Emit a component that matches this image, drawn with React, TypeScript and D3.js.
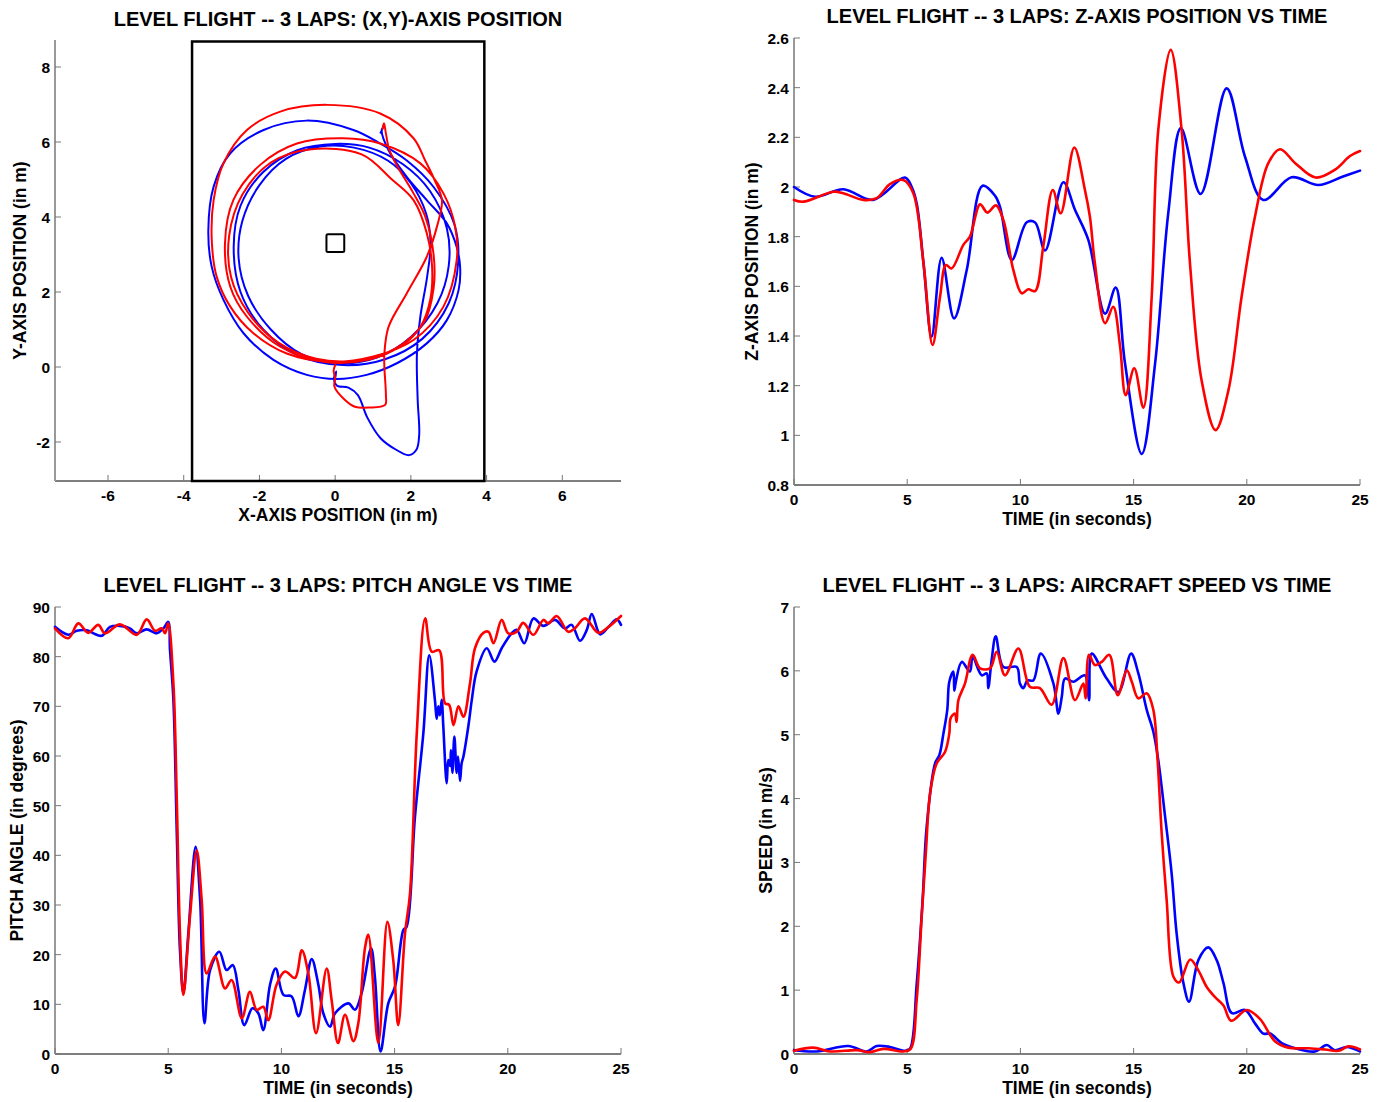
import React from 'react'
import * as d3 from 'd3'

type Pt = [number, number]

// ---- tick values ----
const xyTicksX = [-6, -4, -2, 0, 2, 4, 6]
const xyTicksY = [-2, 0, 2, 4, 6, 8]
const timeTicks = [0, 5, 10, 15, 20, 25]
const zTicks = [0.8, 1, 1.2, 1.4, 1.6, 1.8, 2, 2.2, 2.4, 2.6]
const pitchTicks = [0, 10, 20, 30, 40, 50, 60, 70, 80, 90]
const speedTicks = [0, 1, 2, 3, 4, 5, 6, 7]

// ---- arena (flight volume) and target marker, in metres ----
const arenaBox = { x0: -3.78, x1: 3.94, y0: -3.04, y1: 8.68 }
const targetBox = { x0: -0.23, x1: 0.24, y0: 3.07, y1: 3.54 }

// ---- (x, y) trajectories ----
const xyBlue: Pt[] = [
  [0.0, -0.3], [0.03, -0.12], [-0.03, -0.3], [0.05, -0.5], [0.35, -0.55], [0.6, -0.75], [0.85, -1.35],
  [1.2, -1.9], [1.6, -2.2], [1.95, -2.35], [2.15, -2.2], [2.22, -1.8], [2.18, -0.88], [2.16, 0.36],
  [2.25, 1.34], [2.43, 2.41], [2.52, 3.3], [2.4, 4.1], [2.0, 4.9], [1.4, 5.5], [0.5, 5.85], [-0.4, 5.88],
  [-1.3, 5.55], [-2.0, 4.85], [-2.45, 3.9], [-2.55, 2.9], [-2.3, 1.9], [-1.7, 1.0], [-0.9, 0.35], [0.1, 0.1],
  [1.1, 0.25], [2.0, 0.8], [2.7, 1.7], [3.0, 2.7], [2.95, 3.7], [2.5, 4.7], [1.8, 5.4], [0.9, 5.85], [0.0, 5.95],
  [-1.0, 5.78], [-1.9, 5.2], [-2.5, 4.3], [-2.68, 3.2], [-2.5, 2.0], [-1.9, 1.0], [-1.0, 0.32], [0.2, 0.05],
  [1.3, 0.2], [2.3, 0.75], [3.0, 1.7], [3.25, 2.8], [3.15, 3.8], [2.6, 4.8], [1.9, 5.5], [1.19, 5.96],
  [0.48, 6.32], [-0.75, 6.57], [-1.89, 6.32], [-2.77, 5.7], [-3.21, 4.81], [-3.35, 3.65], [-3.26, 2.67],
  [-2.95, 1.79], [-2.42, 0.9], [-1.63, 0.19], [-0.75, -0.21], [0.04, -0.32], [0.83, -0.21], [1.63, 0.1],
  [2.42, 0.63], [2.95, 1.25], [3.26, 2.05], [3.3, 2.68], [3.21, 3.2], [2.95, 3.83], [2.42, 4.45], [1.89, 5.07],
  [1.41, 5.78], [1.23, 6.32], [1.27, 6.38], [1.2, 6.25]
]
const xyRed: Pt[] = [
  [0.0, 0.05], [-0.04, -0.1], [0.0, -0.3], [-0.02, -0.52], [0.26, -0.88], [0.52, -1.06], [0.9, -1.08],
  [1.32, -1.01], [1.34, -0.75], [1.3, 0.0], [1.3, 0.36], [1.41, 1.07], [1.89, 1.96], [2.42, 2.94], [2.69, 3.75],
  [2.82, 4.45], [2.62, 5.0], [2.38, 5.5], [2.07, 6.1], [1.19, 6.76], [-0.22, 6.99], [-1.45, 6.81], [-2.33, 6.32],
  [-2.95, 5.43], [-3.21, 4.45], [-3.26, 3.39], [-3.13, 2.41], [-2.77, 1.61], [-2.16, 0.9], [-1.28, 0.36],
  [-0.13, 0.14], [1.01, 0.28], [2.07, 0.72], [2.86, 1.61], [3.21, 2.85], [3.17, 3.74], [2.86, 4.63], [2.25, 5.43],
  [1.19, 5.96], [0.22, 6.1], [-1.01, 5.96], [-1.98, 5.39], [-2.69, 4.45], [-2.91, 3.3], [-2.77, 2.14],
  [-2.33, 1.34], [-1.45, 0.54], [-0.31, 0.14], [0.9, 0.2], [1.8, 0.6], [2.25, 1.07], [2.51, 1.79], [2.56, 2.67],
  [2.42, 3.57], [2.07, 4.45], [1.5, 5.0], [0.7, 5.67], [-0.68, 5.8], [-1.7, 5.45], [-2.45, 4.6], [-2.8, 3.5],
  [-2.75, 2.4], [-2.3, 1.45], [-1.5, 0.65], [-0.5, 0.22], [0.6, 0.18], [1.6, 0.5], [2.35, 1.2], [2.6, 2.1],
  [2.6, 3.0], [2.38, 4.01], [2.07, 4.63], [1.65, 5.34], [1.43, 5.79], [1.34, 6.23], [1.29, 6.5], [1.25, 6.35]
]

// ---- z position vs time [t, z] ----
const zBlue: Pt[] = [
  [0, 2.0], [0.93, 1.961], [2.18, 1.991], [3.5, 1.948], [4.9, 2.038], [5.2, 2.0], [5.42, 1.934], [5.72, 1.693],
  [6.08, 1.397], [6.52, 1.715], [7.07, 1.471], [7.63, 1.666], [8.33, 2.005], [8.88, 1.965], [9.1, 1.92],
  [9.62, 1.706], [10.28, 1.858], [10.65, 1.857], [11.09, 1.744], [11.9, 2.019], [12.41, 1.908], [13.0, 1.787],
  [13.74, 1.49], [14.21, 1.595], [14.62, 1.29], [15.36, 0.925], [15.95, 1.29], [16.53, 1.894], [17.09, 2.237],
  [17.96, 1.972], [19.11, 2.397], [19.92, 2.122], [20.73, 1.948], [21.98, 2.039], [23.16, 2.008], [24.19, 2.04],
  [25, 2.066]
]
const zRed: Pt[] = [
  [0, 1.948], [0.41, 1.941], [1.74, 1.981], [2.18, 1.975], [3.06, 1.948], [3.65, 1.955], [4.24, 2.012],
  [4.83, 2.028], [5.27, 1.975], [5.72, 1.693], [6.12, 1.364], [6.45, 1.558], [6.71, 1.686], [6.96, 1.672],
  [7.48, 1.767], [7.77, 1.8], [8.22, 1.93], [8.54, 1.897], [8.92, 1.926], [9.25, 1.866], [9.69, 1.665],
  [10.06, 1.572], [10.35, 1.588], [10.65, 1.581], [11.01, 1.76], [11.43, 1.988], [11.78, 1.894], [12.38, 2.159],
  [12.85, 1.988], [13.07, 1.88], [13.29, 1.693], [13.74, 1.451], [14.1, 1.518], [14.4, 1.36], [14.65, 1.162],
  [15.03, 1.27], [15.43, 1.111], [15.8, 1.558], [16.09, 2.23], [16.64, 2.552], [17.12, 2.23], [17.49, 1.693],
  [18.0, 1.223], [18.62, 1.021], [19.19, 1.182], [19.77, 1.558], [20.36, 1.88], [20.95, 2.096], [21.47, 2.152],
  [22.14, 2.096], [23.04, 2.038], [23.9, 2.07], [24.56, 2.125], [25, 2.145]
]

// ---- pitch angle vs time [t, deg] ----
const pitchBlue: Pt[] = [
  [0, 86.0], [0.59, 84.4], [0.96, 85.2], [1.4, 85.3], [1.69, 84.7], [2.06, 84.2], [2.43, 86.0], [2.87, 86.2],
  [3.31, 85.7], [3.61, 84.7], [4.05, 85.5], [4.49, 84.7], [4.79, 85.7], [5.0, 87.0], [5.08, 81.3], [5.23, 71.3],
  [5.38, 44.4], [5.52, 20.9], [5.67, 12.2], [5.89, 24.3], [6.21, 41.7], [6.41, 31.0], [6.6, 6.2], [6.85, 16.9],
  [7.26, 20.6], [7.58, 16.9], [7.85, 17.9], [8.1, 12.9], [8.36, 5.8], [8.72, 9.2], [8.98, 8.2], [9.2, 4.8],
  [9.5, 14.0], [9.75, 17.2], [10.09, 11.9], [10.45, 11.6], [10.75, 7.6], [11.04, 12.9], [11.34, 19.1],
  [11.63, 14.0], [11.85, 8.2], [12.15, 5.5], [12.37, 8.2], [12.96, 10.2], [13.25, 8.9], [13.54, 12.2],
  [13.96, 21.3], [14.13, 15.5], [14.38, 0.5], [14.72, 10.2], [15.02, 13.6], [15.39, 25.0], [15.53, 25.6],
  [15.9, 47.8], [16.27, 64.6], [16.53, 80.3], [16.78, 71.3], [16.86, 67.5], [16.93, 70.0], [17.0, 68.2],
  [17.08, 71.3], [17.15, 66.1], [17.3, 54.5], [17.37, 59.2], [17.45, 58.0], [17.49, 61.2], [17.55, 56.6],
  [17.64, 63.9], [17.74, 56.6], [17.8, 59.9], [17.89, 55.0], [17.96, 58.5], [18.04, 59.9], [18.26, 66.1],
  [18.41, 71.3], [18.62, 77.0], [19.07, 81.7], [19.41, 79.0], [19.73, 81.7], [20.17, 84.7], [20.39, 85.4],
  [20.73, 82.7], [21.13, 87.7], [21.57, 86.2], [22.08, 87.4], [22.52, 85.7], [22.82, 86.4], [23.19, 83.2],
  [23.49, 85.4], [23.71, 88.6], [24.08, 84.5], [24.45, 86.0], [24.81, 87.5], [25, 86.4]
]
const pitchRed: Pt[] = [
  [0, 85.7], [0.59, 83.7], [1.03, 86.7], [1.47, 84.8], [1.91, 86.4], [2.21, 84.7], [2.87, 86.5], [3.61, 84.4],
  [4.05, 87.5], [4.42, 85.2], [4.71, 85.7], [4.86, 84.7], [5.0, 86.7], [5.23, 74.6], [5.38, 51.1], [5.52, 24.3],
  [5.67, 11.9], [5.96, 27.6], [6.26, 41.0], [6.48, 31.0], [6.7, 16.2], [7.07, 19.6], [7.51, 13.2], [7.8, 14.9],
  [8.25, 7.2], [8.61, 12.5], [8.91, 8.9], [9.2, 9.5], [9.42, 6.8], [9.79, 14.0], [10.16, 16.6], [10.6, 15.3],
  [10.9, 20.9], [11.19, 16.2], [11.53, 4.2], [12.0, 17.2], [12.22, 10.8], [12.5, 2.2], [12.81, 7.9],
  [13.18, 2.6], [13.4, 6.3], [13.69, 21.3], [13.84, 24.0], [14.28, 2.2], [14.68, 26.6], [14.94, 18.9],
  [15.16, 5.8], [15.46, 24.3], [15.68, 32.3], [15.98, 64.6], [16.35, 87.7], [16.64, 81.0], [16.97, 81.3],
  [17.23, 70.6], [17.41, 70.3], [17.6, 66.2], [17.82, 70.0], [18.04, 67.9], [18.33, 74.6], [18.55, 81.7],
  [18.92, 84.8], [19.15, 85.0], [19.37, 82.7], [19.73, 87.4], [20.02, 84.7], [20.39, 85.0], [20.68, 86.8],
  [21.13, 84.4], [21.57, 87.4], [21.79, 86.7], [22.16, 88.2], [22.67, 85.0], [22.96, 85.7], [23.41, 87.7],
  [24.0, 84.8], [24.45, 86.0], [25, 88.2]
]

// ---- aircraft speed vs time [t, m/s] ----
const speedBlue: Pt[] = [
  [0, 0.06], [1.0, 0.04], [2.4, 0.125], [3.2, 0.04], [3.65, 0.125], [4.24, 0.11], [4.9, 0.05], [5.12, 0.08],
  [5.42, 1.1], [5.68, 2.41], [5.86, 3.56], [6.23, 4.55], [6.42, 4.68], [6.6, 5.02], [6.77, 5.39], [6.86, 5.83],
  [7.04, 5.99], [7.08, 5.69], [7.16, 5.85], [7.41, 6.14], [7.77, 5.99], [7.89, 6.22], [8.29, 5.93], [8.51, 5.96],
  [8.58, 5.73], [8.73, 6.17], [8.91, 6.54], [9.25, 6.06], [9.84, 6.06], [9.98, 5.8], [10.13, 5.73], [10.31, 5.85],
  [10.57, 5.85], [10.9, 6.27], [11.46, 5.8], [11.68, 5.33], [11.83, 5.6], [11.97, 5.88], [12.34, 5.83],
  [12.85, 5.93], [13.03, 5.54], [13.15, 6.27], [13.81, 5.88], [14.33, 5.67], [14.89, 6.27], [15.21, 5.96],
  [15.58, 5.39], [15.87, 5.05], [16.09, 4.6], [16.39, 3.72], [16.68, 2.83], [16.9, 1.89], [17.2, 1.11],
  [17.45, 0.82], [17.86, 1.47], [18.3, 1.67], [18.67, 1.47], [18.97, 1.11], [19.34, 0.64], [19.92, 0.69],
  [20.36, 0.48], [20.73, 0.32], [21.03, 0.32], [21.54, 0.17], [22.13, 0.09], [23.01, 0.04], [23.53, 0.14],
  [23.89, 0.06], [24.41, 0.11], [25, 0.04]
]
const speedRed: Pt[] = [
  [0, 0.05], [0.85, 0.1], [1.59, 0.04], [2.77, 0.06], [3.36, 0.03], [3.95, 0.08], [4.83, 0.04], [5.15, 0.08],
  [5.42, 0.85], [5.64, 2.15], [5.83, 3.19], [6.01, 4.08], [6.3, 4.55], [6.67, 4.73], [6.86, 5.02], [6.92, 5.26],
  [7.11, 5.33], [7.18, 5.2], [7.26, 5.54], [7.55, 5.8], [7.89, 6.25], [8.22, 6.04], [8.66, 6.04], [8.95, 6.3],
  [9.32, 5.93], [9.91, 6.35], [10.42, 5.75], [10.86, 5.73], [11.38, 5.47], [11.9, 6.2], [12.41, 5.54],
  [12.78, 5.8], [12.88, 5.57], [13.03, 6.25], [13.29, 6.09], [13.59, 6.14], [13.93, 6.25], [14.3, 5.62],
  [14.7, 6.01], [14.92, 5.83], [15.21, 5.57], [15.58, 5.65], [15.87, 5.39], [16.06, 4.6], [16.24, 3.46],
  [16.46, 2.41], [16.76, 1.21], [17.01, 1.12], [17.5, 1.48], [17.86, 1.31], [18.23, 1.05], [18.6, 0.89],
  [18.97, 0.76], [19.31, 0.52], [20.0, 0.69], [20.58, 0.55], [21.24, 0.2], [21.83, 0.1], [22.72, 0.09],
  [23.46, 0.07], [24.05, 0.05], [24.49, 0.12], [25, 0.07]
]

const FONT = "'Liberation Sans', Arial, Helvetica, sans-serif"
const BLUE = '#0000ff'
const RED = '#ff0000'
const fmt = (v: number) => `${+v.toFixed(1)}`

function Axes({ x, y, xTicks, yTicks }) {
  const [x0, x1] = x.range()
  const [yb, yt] = y.range()
  return (
    <g fontFamily={FONT} fontWeight="bold" fontSize={15.5} fill="#000">
      <line x1={x0} x2={x1} y1={yb} y2={yb} stroke="#555" strokeWidth={1.4} />
      <line x1={x0} x2={x0} y1={yb} y2={yt} stroke="#999" strokeWidth={2} />
      {xTicks.map(t => (
        <g key={'x' + t}>
          <line x1={x(t)} x2={x(t)} y1={yb} y2={yb - 6} stroke="#777" strokeWidth={1} />
          <text x={x(t)} y={yb + 20} textAnchor="middle">{fmt(t)}</text>
        </g>
      ))}
      {yTicks.map(t => (
        <g key={'y' + t}>
          <line x1={x0} x2={x0 + 6} y1={y(t)} y2={y(t)} stroke="#777" strokeWidth={1} />
          <text x={x0 - 5} y={y(t) + 6} textAnchor="end">{fmt(t)}</text>
        </g>
      ))}
    </g>
  )
}

function Labels({ x, y, title, titleY, xLabel, yLabel, yLabelX }) {
  const [x0, x1] = x.range()
  const [yb, yt] = y.range()
  const cx = (x0 + x1) / 2
  const cy = (yb + yt) / 2
  return (
    <g fontFamily={FONT} fontWeight="bold" fill="#000">
      <text x={cx} y={titleY} fontSize={20} textAnchor="middle">{title}</text>
      <text x={cx} y={yb + 40} fontSize={17.5} textAnchor="middle">{xLabel}</text>
      <text transform={`translate(${yLabelX},${cy}) rotate(-90)`} fontSize={17.5}
        textAnchor="middle" dominantBaseline="central">{yLabel}</text>
    </g>
  )
}

function Series({ x, y, data, color, width }) {
  const line = d3.line<Pt>()
    .x(d => x(d[0]))
    .y(d => y(d[1]))
    .curve(d3.curveCatmullRom.alpha(0.5))
  return <path d={line(data) || ''} fill="none" stroke={color} strokeWidth={width}
    strokeLinejoin="round" strokeLinecap="round" />
}

function TimePanel({ left, top, data, yDomain, yTicks, title, titleY, yLabel, yLabelX }) {
  const x = d3.scaleLinear().domain([0, 25]).range([left, left + 566])
  const y = d3.scaleLinear().domain(yDomain).range([top + 447, top])
  return (
    <g>
      <Axes x={x} y={y} xTicks={timeTicks} yTicks={yTicks} />
      <Series x={x} y={y} data={data[0]} color={BLUE} width={2.6} />
      <Series x={x} y={y} data={data[1]} color={RED} width={2.6} />
      <Labels x={x} y={y} title={title} titleY={titleY} xLabel="TIME (in seconds)"
        yLabel={yLabel} yLabelX={yLabelX} />
    </g>
  )
}

function XYPanel() {
  const x = d3.scaleLinear().domain([-7.4, 7.55]).range([55, 621])
  const y = d3.scaleLinear().domain([-3.04, 8.72]).range([481, 40])
  const rect = (b, sw) => (
    <rect x={x(b.x0)} y={y(b.y1)} width={x(b.x1) - x(b.x0)} height={y(b.y0) - y(b.y1)}
      fill="none" stroke="#000" strokeWidth={sw} rx={sw === 2 ? 1.5 : 0} />
  )
  return (
    <g>
      <Axes x={x} y={y} xTicks={xyTicksX} yTicks={xyTicksY} />
      {rect(arenaBox, 2.5)}
      <Series x={x} y={y} data={xyBlue} color={BLUE} width={2} />
      <Series x={x} y={y} data={xyRed} color={RED} width={2} />
      {rect(targetBox, 2)}
      <Labels x={x} y={y} title="LEVEL FLIGHT -- 3 LAPS: (X,Y)-AXIS POSITION" titleY={26}
        xLabel="X-AXIS POSITION (in m)" yLabel="Y-AXIS POSITION (in m)" yLabelX={20} />
    </g>
  )
}

export default function App() {
  return (
    <svg width={1385} height={1102} style={{ position: 'absolute', left: 0, top: 0, background: '#fff' }}>
      <XYPanel />
      <TimePanel left={794} top={38} data={[zBlue, zRed]} yDomain={[0.8, 2.6]} yTicks={zTicks}
        title="LEVEL FLIGHT -- 3 LAPS: Z-AXIS POSITION VS TIME" titleY={23}
        yLabel="Z-AXIS POSITION (in m)" yLabelX={752} />
      <TimePanel left={55} top={607} data={[pitchBlue, pitchRed]} yDomain={[0, 90]} yTicks={pitchTicks}
        title="LEVEL FLIGHT -- 3 LAPS: PITCH ANGLE VS TIME" titleY={592}
        yLabel="PITCH ANGLE (in degrees)" yLabelX={17} />
      <TimePanel left={794} top={607} data={[speedBlue, speedRed]} yDomain={[0, 7]} yTicks={speedTicks}
        title="LEVEL FLIGHT -- 3 LAPS: AIRCRAFT SPEED VS TIME" titleY={592}
        yLabel="SPEED (in m/s)" yLabelX={766} />
    </svg>
  )
}
